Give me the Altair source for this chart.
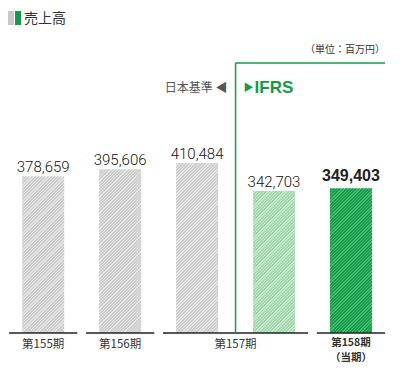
import altair as alt
import pandas as pd

# ---- data ----
bar_index = [0, 1, 2, 3, 4]
bar_values = [378659, 395606, 410484, 342703, 349403]
bar_labels = ["378,659", "395,606", "410,484", "342,703", "349,403"]
bar_standard = ["JGAAP", "JGAAP", "JGAAP", "IFRS", "IFRS"]

group_names = ["第155期", "第156期", "第157期", "第158期"]
group_first = [0, 1, 2, 4]
group_last = [0, 1, 3, 4]

title_text = "売上高"
unit_text = "（単位：百万円）"
jgaap_text = "日本基準 ◀"
ifrs_text = "IFRS"
current_text = "（当期）"

# ---- layout / style ----
W, H = 384, 325
Y_MAX = 785000
X_DOM = [-31 / 79, (W - 31) / 79]
BAR_W = 42
HALF_GROUP = 35 / 79
GREEN = "#139b48"
CJK = "Noto Sans CJK JP"
NUM = "Roboto, Liberation Sans, sans-serif"

hatch_colors = [
    ("#cdcdcd", "#e3e3e3"),
    ("#cdcdcd", "#e3e3e3"),
    ("#cdcdcd", "#e3e3e3"),
    ("#a2d6ac", "#c6e8cc"),
    ("#179a4a", "#44bb6d"),
]


def hatch(value, base, light, w=BAR_W, period=3.2, frac=0.42):
    h = value * H / Y_MAX
    s = (w + h) * w / (w * w + h * h)
    n = (w + h) / period
    stops = []
    j = 0
    while j < n:
        a = j / n
        b = min((j + 1 - frac) / n, 1)
        c = min((j + 1) / n, 1)
        stops += [
            {"offset": a, "color": base},
            {"offset": b, "color": base},
            {"offset": b, "color": light},
            {"offset": c, "color": light},
        ]
        j += 1
    return {"gradient": "linear", "x1": 0, "y1": 0, "x2": s, "y2": s * h / w, "stops": stops}


bars_df = pd.DataFrame({
    "i": bar_index, "v": bar_values, "lab": bar_labels, "std": bar_standard,
})
groups_df = pd.DataFrame({"name": group_names, "first": group_first, "last": group_last})

xs = alt.Scale(domain=X_DOM, nice=False, zero=False)
ys = alt.Scale(domain=[0, Y_MAX], nice=False)


def X(f):
    return alt.X(f, type="quantitative", scale=xs, axis=None)


def Y(f):
    return alt.Y(f, type="quantitative", scale=ys, axis=None)


layers = []
base = alt.Chart(bars_df)
for k in bar_index:
    c0, c1 = hatch_colors[k]
    layers.append(
        base.transform_filter(alt.datum.i == k)
        .mark_bar(size=BAR_W, color=hatch(bar_values[k], c0, c1))
        .encode(x=X("i"), y=Y("v"))
    )

# value labels
layers.append(
    base.transform_filter(alt.datum.i < 4)
    .mark_text(font=NUM, fontWeight=300, fontSize=15, color="#111111",
               baseline="alphabetic", dy=-4)
    .encode(x=X("i"), y=Y("v"), text="lab:N")
)
layers.append(
    base.transform_filter(alt.datum.i == 4)
    .mark_text(font="Liberation Sans", fontWeight="bold", fontSize=16, color="#222222",
               baseline="alphabetic", dy=-7)
    .encode(x=X("i"), y=Y("v"), text="lab:N")
)

# baseline segments per group
gbase = alt.Chart(groups_df).transform_calculate(
    x0=f"datum.first - {HALF_GROUP}", x1=f"datum.last + {HALF_GROUP}",
    xm="(datum.first + datum.last) / 2",
)
layers.append(
    gbase.mark_rule(color="#222222", strokeWidth=1.3)
    .encode(x=X("x0"), x2="x1:Q", y=alt.value(H))
)
# group labels
layers.append(
    gbase.transform_filter(alt.datum.first < 4)
    .mark_text(font=CJK, fontSize=11.5, color="#333333", baseline="middle")
    .encode(x=X("xm"), y=alt.value(H + 12), text="name:N")
)
layers.append(
    gbase.transform_filter(alt.datum.first == 4)
    .mark_text(font=CJK, fontSize=10.5, fontWeight="bold", color="#333333", baseline="middle")
    .encode(x=X("xm"), y=alt.value(H + 10), text="name:N")
)
layers.append(
    gbase.transform_filter(alt.datum.first == 4)
    .mark_text(font=CJK, fontSize=10.5, fontWeight="bold", color="#333333", baseline="middle",
               text=current_text)
    .encode(x=X("xm"), y=alt.value(H + 25))
)

# IFRS divider
div_df = pd.DataFrame({"x": [2.5], "x2": [4 + HALF_GROUP]})
layers.append(
    alt.Chart(div_df).mark_rule(color=GREEN, strokeWidth=1.5)
    .encode(x=X("x"), y=alt.value(55), y2=alt.value(H))
)
layers.append(
    alt.Chart(div_df).mark_rule(color=GREEN, strokeWidth=1.5)
    .encode(x=X("x"), x2="x2:Q", y=alt.value(55))
)

# annotations
layers.append(
    alt.Chart(div_df).mark_text(font=CJK, fontSize=12, color="#555555", align="right",
                                baseline="middle", text=jgaap_text, dx=-8)
    .encode(x=X("x"), y=alt.value(80))
)
layers.append(
    alt.Chart(div_df).mark_text(font=CJK, fontSize=10, color=GREEN, align="left",
                                baseline="middle", text="▶", dx=8)
    .encode(x=X("x"), y=alt.value(80))
)
layers.append(
    alt.Chart(div_df).mark_text(font="Liberation Sans", fontWeight="bold", fontSize=17,
                                color=GREEN, align="left", baseline="middle", text=ifrs_text, dx=19)
    .encode(x=X("x"), y=alt.value(80))
)
layers.append(
    alt.Chart(div_df).mark_text(font=CJK, fontSize=10, color="#333333", align="right",
                                baseline="middle", text=unit_text)
    .encode(x=X("x2"), y=alt.value(42))
)

# title with icon
layers.append(
    alt.Chart(div_df).mark_rect(color="#c8c8c8")
    .encode(x=alt.value(0), x2=alt.value(6), y=alt.value(3), y2=alt.value(17))
)
layers.append(
    alt.Chart(div_df).mark_rect(color=GREEN)
    .encode(x=alt.value(7), x2=alt.value(13), y=alt.value(3), y2=alt.value(17))
)
layers.append(
    alt.Chart(div_df).mark_text(font=CJK, fontSize=14, color="#333333", align="left",
                                baseline="middle", text=title_text)
    .encode(x=alt.value(16), y=alt.value(11))
)

chart = alt.layer(*layers).properties(
    width=W, height=H, autosize="none",
    padding={"left": 0, "right": 0, "top": 0, "bottom": 33},
    background="white",
).configure_view(stroke=None)

chart.save("out.html", embed_options={"renderer": "svg", "actions": False})
